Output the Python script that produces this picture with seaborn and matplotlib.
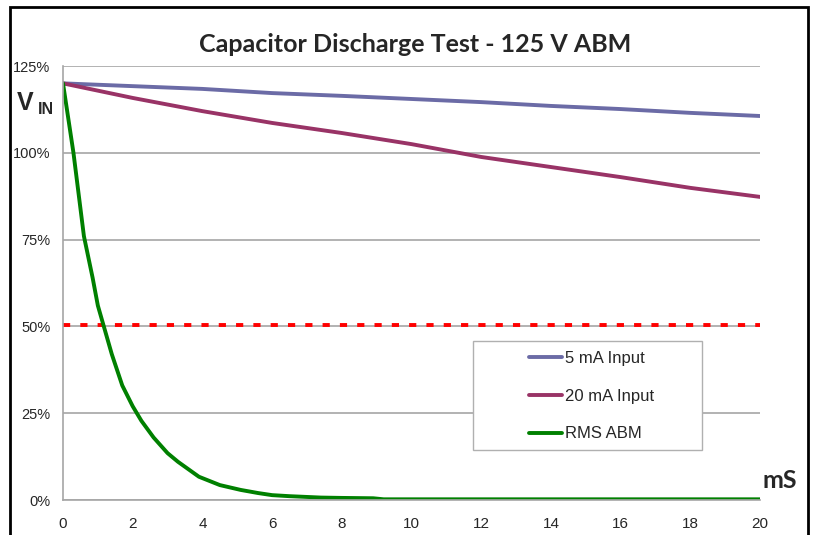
import numpy as np
import pandas as pd
import matplotlib
matplotlib.use("Agg")
import matplotlib.pyplot as plt
from matplotlib.patches import Rectangle
from matplotlib.ticker import MultipleLocator, PercentFormatter
import seaborn as sns

# data
ms_slow = [0, 2, 4, 6, 8, 10, 12, 14, 16, 18, 20]
input_5ma = [120, 119.2, 118.4, 117.2, 116.4, 115.5, 114.6, 113.5, 112.6, 111.5, 110.6]
input_20ma = [120, 115.8, 112.0, 108.6, 105.7, 102.5, 98.8, 95.9, 93.0, 89.9, 87.3]

ms_abm = [0, 0.3, 0.6, 0.85, 1.0, 1.2, 1.4, 1.7, 2.0, 2.25, 2.6, 3.0, 3.3, 3.9,
          4.5, 5.1, 5.6, 6.0, 6.5, 7.4, 8.0, 8.9, 9.2, 10, 12, 14, 16, 18, 20]
rms_abm = [120, 100, 76, 64, 56, 49, 42, 33, 27, 22.8, 18, 13.5, 11, 6.7,
           4.3, 2.9, 2.0, 1.4, 1.1, 0.7, 0.6, 0.5, 0.2, 0.2, 0.2, 0.2, 0.2, 0.2, 0.2]

threshold = 50.4

sns.set_style("white")
plt.rcParams['font.family'] = ['Liberation Sans', 'DejaVu Sans']

W, H = 814, 535
fig = plt.figure(figsize=(8.14, 5.35), dpi=100)
ax = fig.add_axes([63 / W, 1 - 500 / H, 697 / W, 434 / H])

grid_col = '#a6a6a6'
ax.set_xlim(0, 20)
ax.set_ylim(0, 125)
ax.yaxis.set_major_locator(MultipleLocator(25))
ax.yaxis.set_major_formatter(PercentFormatter(decimals=0))
ax.xaxis.set_major_locator(MultipleLocator(2))
ax.xaxis.set_minor_locator(MultipleLocator(0.5))
ax.grid(axis='y', color=grid_col, linewidth=1.2)
ax.set_axisbelow(True)
for s in ['top', 'right']:
    ax.spines[s].set_visible(False)
for s in ['left', 'bottom']:
    ax.spines[s].set_color(grid_col)
    ax.spines[s].set_linewidth(1.2)
ax.tick_params(axis='both', which='major', direction='out', length=5, width=1.2,
               color=grid_col, labelsize=10.5, pad=4)
ax.tick_params(axis='x', which='major', labelsize=11, pad=7)
ax.tick_params(axis='x', which='minor', direction='in', length=3, width=0.8, color='#cfcfcf')

lw = 2.8
sns.lineplot(x=ms_slow, y=input_5ma, ax=ax, color='#6b6ba6', linewidth=lw, label='5 mA Input')
sns.lineplot(x=ms_slow, y=input_20ma, ax=ax, color='#993366', linewidth=lw, label='20 mA Input')
sns.lineplot(x=ms_abm, y=rms_abm, ax=ax, color='#008000', linewidth=lw, label='RMS ABM')
ax.axhline(threshold, color='#ff0000', linewidth=2.8, linestyle=(0, (1.85, 2.6)), zorder=1.5)

ax.set_xlabel('')
ax.set_ylabel('')

# legend box drawn separately (Excel centres the entries inside a wide frame)
x0 = (473 - 63) / 697
y0 = (500 - 450) / 434
ax.add_patch(Rectangle((x0, y0), (702 - 473) / 697, (450 - 341) / 434,
                       transform=ax.transAxes, facecolor='white',
                       edgecolor='#b0b0b0', linewidth=1.0, zorder=4))
leg = ax.legend(loc='upper left', bbox_to_anchor=((524 - 63) / 697, (500 - 346) / 434),
                frameon=False, fontsize=12, handlelength=2.0,
                handletextpad=0.15, labelspacing=1.36, borderpad=0.3,
                borderaxespad=0)
leg.set_zorder(5)

fig.text(415 / W, 1 - 45 / H, 'Capacitor Discharge Test - 125 V ABM',
         ha='center', va='center', fontsize=18, fontweight='bold', family=['Lato', 'DejaVu Sans'])
fig.text(17 / W, 1 - 103 / H, 'V', ha='left', va='center', fontsize=18, fontweight='bold')
fig.text(38 / W, 1 - 110 / H, 'IN', ha='left', va='center', fontsize=11.5, fontweight='bold')
fig.text(762 / W, 1 - 481 / H, 'mS', ha='left', va='center', fontsize=18,
         fontweight='bold', family=['Lato', 'DejaVu Sans'])

fig.patches.append(Rectangle((10 / W, -0.05), 798 / W, 1.05 - 7 / H,
                             transform=fig.transFigure, fill=False,
                             edgecolor='black', linewidth=2.0))

fig.savefig('out.png', dpi=100)
